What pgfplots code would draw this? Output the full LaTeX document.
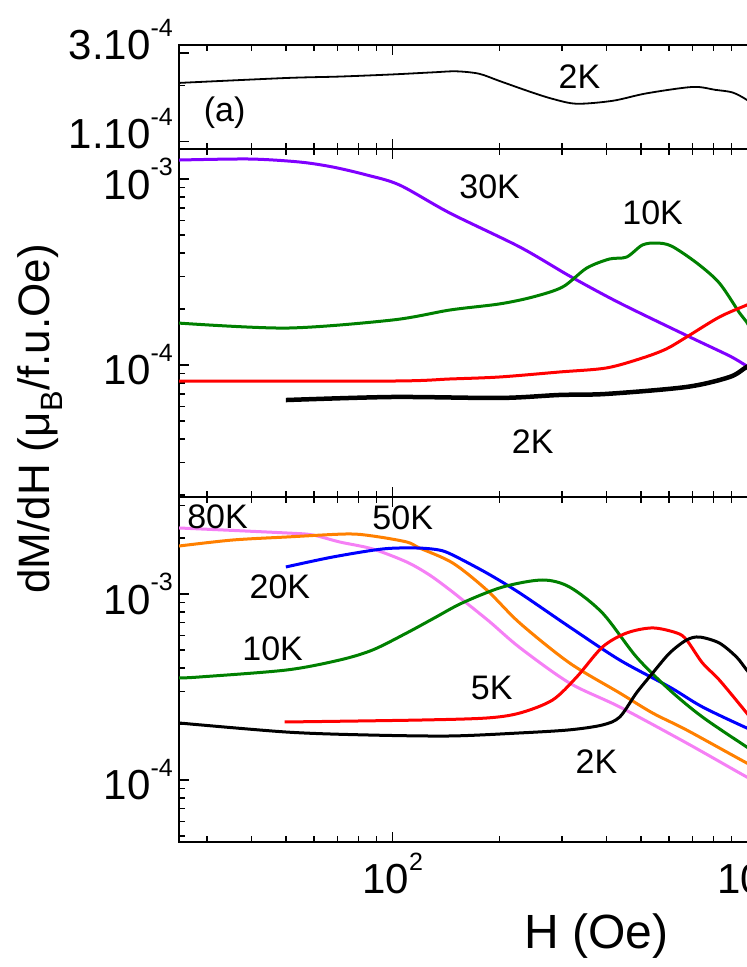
\documentclass[border=0pt]{standalone}
\usepackage{fontspec}
\setmainfont{Liberation Sans}
\usepackage{pgfplots}
\pgfplotsset{compat=1.18}

\definecolor{c30}{RGB}{128,0,255}
\definecolor{c10}{RGB}{0,128,0}
\definecolor{c5}{RGB}{255,0,0}
\definecolor{c20}{RGB}{0,0,255}
\definecolor{c50}{RGB}{255,128,0}
\definecolor{c80}{RGB}{245,128,245}

% raised exponent, as in the original
\newcommand{\sups}[1]{\raisebox{0.55em}{\fontsize{25}{25}\selectfont #1}}
\newcommand{\decade}{10\sups{\pgfmathparse{int(round(\tick/2.302585))}\pgfmathresult}}

\tikzset{lbl/.style={font=\fontsize{34}{34}\selectfont}}

\pgfplotsset{
  mypanel/.style={
    scale only axis, width=738pt,
    xmin=25, xmax=3000,
    axis line style={line width=1.6pt},
    tick style={line width=1.4pt, black},
    major tick length=10pt, minor tick length=6pt,
    tick align=inside,
    xticklabel=\empty,
    yticklabel={\decade},
    yticklabel style={font=\fontsize{42}{42}\selectfont, inner sep=0pt, xshift=-6pt},
    xticklabel style={font=\fontsize{42}{42}\selectfont, inner sep=0pt, yshift=-11pt},
    every axis plot/.append style={line width=3pt, smooth, no marks},
  },
}

\begin{document}
\begin{tikzpicture}
\useasboundingbox (0,0) rectangle (747pt,967pt);
\clip (0,0) rectangle (747pt,967pt);

% (a)
\begin{loglogaxis}[mypanel, at={(179pt,818pt)}, anchor=south west, height=104pt,
  ymin=0.914e-4, ymax=3.31e-4,
  ytick={1e-4,3e-4}, minor ytick={2e-4},
  yticklabels={1.10\sups{-4},3.10\sups{-4}},
  yticklabel style={yshift=13pt}]
\addplot[black, line width=1.8pt] coordinates {
 (25,2.07e-4) (50,2.20e-4) (71,2.24e-4) (100,2.30e-4) (130,2.36e-4)
 (151,2.39e-4) (175,2.32e-4) (200,2.12e-4) (243,1.86e-4) (282,1.70e-4)
 (330,1.60e-4) (417,1.66e-4) (519,1.82e-4) (700,1.97e-4) (811,1.90e-4)
 (906,1.84e-4) (994,1.68e-4) (1100,1.45e-4)};
\node[lbl] at (axis cs:33.6,1.43e-4) {(a)};
\node[lbl] at (axis cs:336,2.25e-4) {2K};
\end{loglogaxis}

% (b)
\begin{loglogaxis}[mypanel, at={(179pt,470pt)}, anchor=south west, height=348pt,
  ymin=1.951e-5, ymax=1.45e-3]
\addplot[c30] coordinates {
 (25,1.265e-3) (39.5,1.281e-3) (54.7,1.234e-3) (67.8,1.160e-3) (84.5,1.051e-3)
 (104.6,0.928e-3) (144.7,0.657e-3) (228,0.431e-3) (315,0.301e-3) (436,0.2154e-3)
 (687,0.1414e-3) (890,0.1118e-3) (994,0.0988e-3) (1100,0.088e-3)};
\addplot[c10] coordinates {
 (25,0.168e-3) (50.3,0.158e-3) (100,0.1746e-3) (145,0.1976e-3) (200,0.213e-3)
 (248,0.232e-3) (301,0.2626e-3) (352,0.332e-3) (408,0.3714e-3) (456,0.3806e-3)
 (505,0.4416e-3) (553,0.4527e-3) (610,0.436e-3) (719,0.3535e-3) (832,0.276e-3)
 (949,0.1904e-3) (994,0.170e-3) (1081,0.128e-3)};
\addplot[c5] coordinates {
 (25,0.0820e-3) (100,0.0820e-3) (145,0.0841e-3) (200,0.0862e-3) (295,0.0917e-3)
 (400,0.0964e-3) (505,0.109e-3) (590,0.122e-3) (673,0.1414e-3) (832,0.181e-3)
 (994,0.210e-3) (1081,0.2236e-3)};
\addplot[black, line width=4.5pt] coordinates {
 (50,0.0648e-3) (100,0.0673e-3) (201,0.0665e-3) (295,0.069e-3) (400,0.0699e-3)
 (673,0.0762e-3) (890,0.0862e-3) (994,0.0976e-3) (1081,0.1035e-3)};
\node[lbl] at (axis cs:187.6,0.906e-3) {30K};
\node[lbl] at (axis cs:540,0.656e-3) {10K};
\node[lbl] at (axis cs:248,3.86e-5) {2K};
\end{loglogaxis}

% (c)
\begin{loglogaxis}[mypanel, at={(179pt,125pt)}, anchor=south west, height=345pt,
  ymin=0.464e-4, ymax=3.322e-3,
  xticklabel={\decade},
  xlabel={H (Oe)},
  xlabel style={font=\fontsize{48}{48}\selectfont, at={(axis description cs:0.566,-0.272)}, anchor=center}]
\addplot[c80] coordinates {
 (25,2.264e-3) (50.3,2.128e-3) (59.5,2.076e-3) (70.9,1.904e-3) (87.8,1.746e-3)
 (109.5,1.486e-3) (127,1.265e-3) (145,1.051e-3) (157.5,0.928e-3) (188,0.707e-3)
 (228,0.515e-3) (315,0.332e-3) (436,0.247e-3) (673,0.158e-3) (994,0.1038e-3)
 (1081,0.0964e-3)};
\addplot[c50] coordinates {
 (25,1.811e-3) (35.4,1.951e-3) (50.3,2.025e-3) (74.2,2.102e-3) (87.8,2.05e-3)
 (109.5,1.904e-3) (119,1.767e-3) (147.6,1.468e-3) (184,1.051e-3) (228,0.698e-3)
 (315,0.4256e-3) (436,0.2936e-3) (540,0.229e-3) (673,0.1857e-3) (994,0.1234e-3)
 (1081,0.1146e-3)};
\addplot[c20] coordinates {
 (50,1.397e-3) (67.7,1.58e-3) (93.7,1.746e-3) (116.8,1.767e-3) (135,1.724e-3)
 (147.6,1.62e-3) (184,1.297e-3) (228,1.012e-3) (315,0.665e-3) (436,0.4416e-3)
 (603,0.316e-3) (746,0.247e-3) (994,0.1904e-3) (1081,0.179e-3)};
\addplot[c10] coordinates {
 (25,0.3535e-3) (28.6,0.358e-3) (50.3,0.3904e-3) (70.9,0.4416e-3) (87.8,0.5e-3)
 (109.5,0.617e-3) (131,0.743e-3) (157,0.895e-3) (204,1.09e-3) (264,1.189e-3)
 (315,1.09e-3) (390,0.79e-3) (486,0.4585e-3) (603,0.3047e-3) (746,0.218e-3)
 (994,0.1505e-3) (1081,0.1363e-3)};
\addplot[c5] coordinates {
 (49.6,0.205e-3) (119,0.21e-3) (184,0.2154e-3) (228,0.229e-3) (282,0.269e-3)
 (330,0.358e-3) (390,0.519e-3) (456,0.617e-3) (540,0.657e-3) (632,0.617e-3)
 (673,0.566e-3) (746,0.4256e-3) (832,0.345e-3) (994,0.229e-3) (1081,0.186e-3)};
\addplot[black] coordinates {
 (25,0.2025e-3) (50.3,0.181e-3) (84.5,0.1746e-3) (145,0.1724e-3) (228,0.179e-3)
 (315,0.186e-3) (390,0.1976e-3) (436,0.218e-3) (486,0.2936e-3) (540,0.376e-3)
 (603,0.4817e-3) (673,0.566e-3) (732,0.587e-3) (832,0.545e-3) (930,0.4585e-3)
 (994,0.3904e-3) (1081,0.324e-3)};
\node[lbl] at (axis cs:32.1,2.59e-3) {80K};
\node[lbl] at (axis cs:106.7,2.56e-3) {50K};
\node[lbl] at (axis cs:48.1,1.09e-3) {20K};
\node[lbl] at (axis cs:45.9,0.506e-3) {10K};
\node[lbl] at (axis cs:190,0.312e-3) {5K};
\node[lbl] at (axis cs:375,0.125e-3) {2K};
\end{loglogaxis}

\node[rotate=90, font=\fontsize{44}{44}\selectfont] at (40pt,548pt)
  {dM/dH (μ\textsubscript{B}/f.u.Oe)};
\end{tikzpicture}
\end{document}
